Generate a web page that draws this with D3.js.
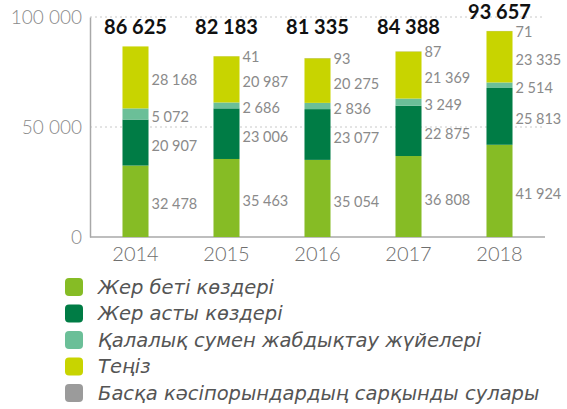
<!DOCTYPE html>
<html>
<head>
<meta charset="utf-8">
<script src="https://cdn.jsdelivr.net/npm/d3@7"></script>
<style>
  body { margin: 0; background: #fff; }
  text { font-family: Lato, "Open Sans", sans-serif; }
</style>
</head>
<body>
<div id="chart"></div>
<script>
// data
var years = ["2014", "2015", "2016", "2017", "2018"];
var surface = [32478, 35463, 35054, 36808, 41924];
var underground = [20907, 23006, 23077, 22875, 25813];
var cityWater = [5072, 2686, 2836, 3249, 2514];
var sea = [28168, 20987, 20275, 21369, 23335];
var otherWaste = [0, 41, 93, 87, 71];
var seriesNames = ["Жер беті көздері", "Жер асты көздері", "Қалалық сумен жабдықтау жүйелері", "Теңіз", "Басқа кәсіпорындардың сарқынды сулары"];
var yTicks = [0, 50000, 100000];

var colors = ["#86bc25", "#007c45", "#6bbf98", "#c8d400", "#9b9b9b"];
var keys = ["surface", "underground", "cityWater", "sea", "other"];

var rows = years.map(function (y, i) {
    return {year: y, surface: surface[i], underground: underground[i], cityWater: cityWater[i], sea: sea[i], other: otherWaste[i]};
});

var width = 567, height = 409;
var svg = d3.select("#chart").append("svg")
    .attr("width", width).attr("height", height);

var x = d3.scaleBand().domain(years).range([90, 545])
    .paddingInner(0.714).paddingOuter(0.357);
var y = d3.scaleLinear().domain([0, 100000]).range([237, 17]);

var fmt = function (v) { return d3.format(",")(v).replace(/,/g, " "); };

// gridlines
svg.append("g").selectAll("line")
    .data(yTicks.filter(function (d) { return d > 0; }))
    .enter().append("line")
    .attr("x1", 90).attr("x2", 543)
    .attr("y1", function (d) { return y(d); }).attr("y2", function (d) { return y(d); })
    .attr("stroke", "#c8c8c8").attr("stroke-dasharray", "2,3");

// y axis
var yAxis = svg.append("g").attr("transform", "translate(90,0)")
    .call(d3.axisLeft(y).tickValues(yTicks).tickSize(0).tickPadding(8).tickFormat(fmt));
yAxis.select(".domain").attr("stroke", "#a8a8a8").attr("stroke-width", 1.5);
yAxis.selectAll("text").attr("font-size", 19).attr("font-weight", 300)
    .attr("fill", "#8a8a8a").style("font-family", "Lato, sans-serif");

// x axis
var xAxis = svg.append("g").attr("transform", "translate(0,237)")
    .call(d3.axisBottom(x).tickSize(0).tickPadding(10).tickSizeOuter(0));
xAxis.select(".domain").attr("stroke", "#a8a8a8").attr("stroke-width", 1.5)
    .attr("d", "M90,0H545");
xAxis.selectAll("text").attr("font-size", 20).attr("font-weight", 300)
    .attr("fill", "#6e6e6e").style("font-family", "Lato, sans-serif");

// stacked bars
var stack = d3.stack().keys(keys)(rows);

var layers = svg.append("g").selectAll("g")
    .data(stack).enter().append("g")
    .attr("fill", function (d, i) { return colors[i]; });

layers.selectAll("rect")
    .data(function (d) { return d; })
    .enter().append("rect")
    .attr("x", function (d) { return x(d.data.year); })
    .attr("width", x.bandwidth())
    .attr("y", function (d) { return y(d[1]); })
    .attr("height", function (d) { return y(d[0]) - y(d[1]); });

// segment value labels
layers.each(function (layer, li) {
    d3.select(this).selectAll("text")
        .data(layer.filter(function (d) { return d[1] - d[0] > 0; }))
        .enter().append("text")
        .attr("x", function (d) { return x(d.data.year) + x.bandwidth() + 3; })
        .attr("y", function (d) {
            if (li === 4) return y(d[1]) + 1;
            return (y(d[0]) + y(d[1])) / 2 + 3;
        })
        .attr("dy", "0.35em")
        .attr("font-size", 14.5)
        .attr("fill", "#8a8a8a")
        .text(function (d) { return fmt(d[1] - d[0]); });
});

// totals
svg.append("g").selectAll("text")
    .data(rows).enter().append("text")
    .attr("x", function (d) { return x(d.year) + x.bandwidth() / 2; })
    .attr("y", function (d) {
        var tot = d.surface + d.underground + d.cityWater + d.sea + d.other;
        return Math.min(34, y(tot) - 12);
    })
    .attr("text-anchor", "middle")
    .attr("font-size", 20).attr("font-weight", "bold").attr("fill", "#111")
    .text(function (d) { return fmt(d.surface + d.underground + d.cityWater + d.sea + d.other); });

// legend
var legend = svg.append("g").selectAll("g")
    .data(seriesNames).enter().append("g")
    .attr("transform", function (d, i) { return "translate(65," + (278 + i * 26.5) + ")"; });
legend.append("rect").attr("width", 18).attr("height", 18).attr("rx", 4)
    .attr("fill", function (d, i) { return colors[i]; });
legend.append("text").attr("x", 33).attr("y", 9).attr("dy", "0.35em")
    .style("font-family", "'DejaVu Sans', sans-serif")
    .attr("font-style", "italic").attr("font-size", 19.5).attr("fill", "#555")
    .text(function (d) { return d; });
</script>
</body>
</html>
